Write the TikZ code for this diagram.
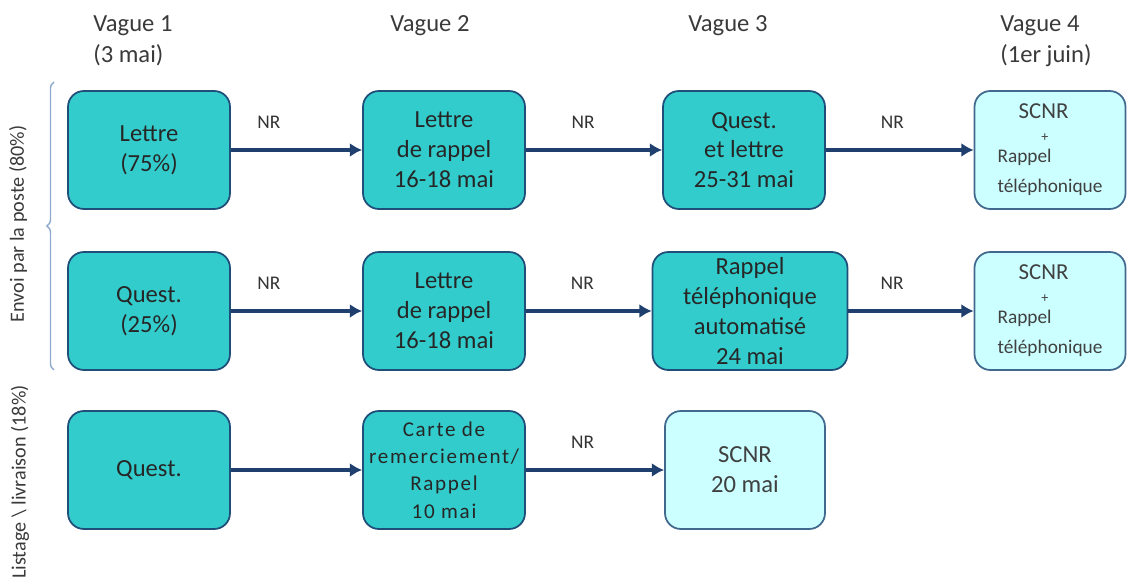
\documentclass[tikz,border=0pt]{standalone}
\usepackage{fontspec}
\setmainfont{Carlito}
\usepackage{tikz}
\usetikzlibrary{arrows.meta,decorations.pathreplacing}
\definecolor{tealfill}{HTML}{33CCCC}
\definecolor{lightfill}{HTML}{CCFFFF}
\definecolor{boxedge}{HTML}{1F4E79}
\definecolor{arrowblue}{HTML}{1F3F6F}
\definecolor{bracecol}{HTML}{8FAACC}
\definecolor{headgray}{HTML}{3A3A3A}

\begin{document}
\begin{tikzpicture}[x=0.02cm,y=-0.02cm,
		etape/.style={draw=boxedge,line width=1pt,fill=tealfill,rounded corners=9pt,minimum width=3.24cm,minimum height=2.36cm,align=center,text=black!85,font=\fontsize{14}{17}\selectfont},
		relance/.style={etape,fill=lightfill,draw=boxedge!85,text=black!75},
		fleche/.style={draw=arrowblue,line width=1.9pt,-{Latex[length=7pt,width=8pt]}},
		nr/.style={font=\fontsize{11}{12}\selectfont,text=black!80,yshift=16pt},
		vague/.style={anchor=north west,align=left,inner sep=0pt,text=headgray,font=\fontsize{14}{18}\selectfont},
		cote/.style={rotate=90,text=headgray,font=\fontsize{11.5}{13}\selectfont}]
			\useasboundingbox (0,0) rectangle (1127,580);

			\node[vague] (vague1) at (93,15) {Vague 1\\(3 mai)};
			\node[vague] (vague2) at (390,15) {Vague 2};
			\node[vague] (vague3) at (688,15) {Vague 3};
			\node[vague] (vague4) at (1000,15) {Vague 4\\(1er juin)};

			\node[cote] (envoi) at (18,224) {Envoi par la poste (80\%)};
			\node[cote] (listage) at (20,482) {Listage \textbackslash{} livraison (18\%)};
			\draw[bracecol,line width=0.8pt,decorate,decoration={brace,amplitude=4pt}] (54,370) -- (54,82);

			\node[etape] (lettre) at (149,150) {Lettre\\(75\%)};
			\node[etape] (rappel1) at (444,150) {Lettre\\de rappel\\16-18 mai};
			\node[etape] (questlettre) at (744,150) {Quest.\\et lettre\\25-31 mai};
			\node[relance,minimum width=3.02cm,align=left] (scnr1) at (1050,150) {\hspace*{12pt}\fontsize{13}{17}\selectfont SCNR\\[-4pt]\hspace*{25pt}\fontsize{8}{8}\selectfont +\\[-5pt]\fontsize{11}{14}\selectfont Rappel\\\fontsize{11}{14}\selectfont téléphonique};

			\node[etape] (quest) at (149,311) {Quest.\\(25\%)};
			\node[etape] (rappel2) at (444,311) {Lettre\\de rappel\\16-18 mai};
			\node[etape,minimum width=3.9cm,inner ysep=0pt] (auto) at (750,311) {Rappel\\téléphonique\\automatisé\\24 mai};
			\node[relance,minimum width=3.02cm,align=left] (scnr2) at (1050,311) {\hspace*{12pt}\fontsize{13}{17}\selectfont SCNR\\[-4pt]\hspace*{25pt}\fontsize{8}{8}\selectfont +\\[-5pt]\fontsize{11}{14}\selectfont Rappel\\\fontsize{11}{14}\selectfont téléphonique};

			\node[etape] (questliste) at (149,470) {Quest.};
			\node[etape,font=\fontsize{12}{15.5}\selectfont\addfontfeatures{LetterSpace=8}] (carte) at (444,470) {Carte de\\remerciement/\\Rappel\\10 mai};
			\node[relance,minimum width=3.2cm] (scnr3) at (745,470) {SCNR\\20 mai};

			\draw[fleche] (lettre.east) -- node[nr,pos=0.29] (nr11) {NR} (rappel1.west);
			\draw[fleche] (rappel1.east) -- node[nr,pos=0.42] (nr12) {NR} (questlettre.west);
			\draw[fleche] (questlettre.east) -- node[nr,pos=0.45] (nr13) {NR} (scnr1.west);
			\draw[fleche] (quest.east) -- node[nr,pos=0.29] (nr21) {NR} (rappel2.west);
			\draw[fleche] (rappel2.east) -- node[nr,pos=0.45] (nr22) {NR} (auto.west);
			\draw[fleche] (auto.east) -- node[nr,pos=0.35] (nr23) {NR} (scnr2.west);
			\draw[fleche] (questliste.east) -- (carte.west);
			\draw[fleche] (carte.east) -- node[nr,pos=0.41] (nr32) {NR} (scnr3.west);
		\end{tikzpicture}
\end{document}
